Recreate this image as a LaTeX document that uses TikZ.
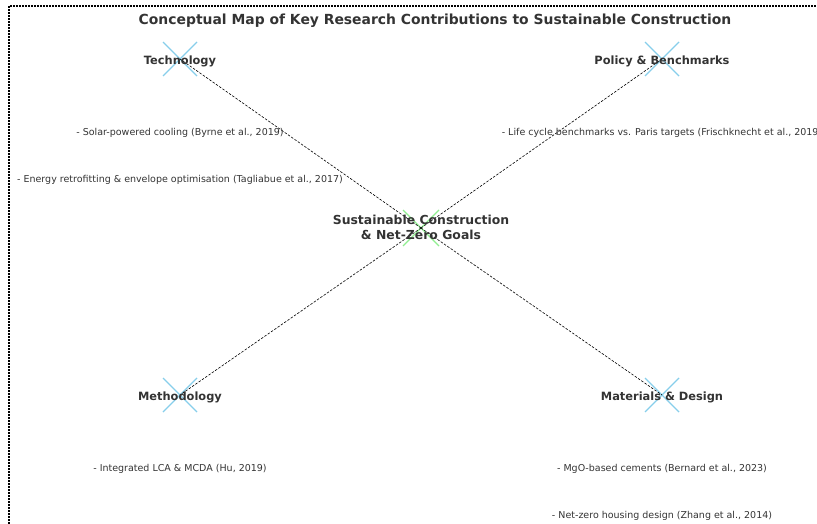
\documentclass[tikz,border=0pt]{standalone}
\usepackage{fontspec}
\setmainfont{DejaVu Sans}
\usetikzlibrary{calc}
\begin{document}
\begin{tikzpicture}[x=1pt,y=-1pt,
  txt/.style={text=textgray, inner sep=0pt, font=\fontsize{9.5}{11}\selectfont},
  hub/.style={text=textgray, inner sep=0pt, font=\bfseries\fontsize{11.4}{14}\selectfont, align=center},
  link/.style={draw=black, line width=0.6pt, dash pattern=on 2.5pt off 1.5pt},
  cross/.style={line width=1.4pt},
  frame/.style={line width=1.6pt, dash pattern=on 1.6pt off 1.4pt}]
\definecolor{textgray}{HTML}{333333}
\definecolor{sky}{HTML}{87CEEB}
\definecolor{mint}{HTML}{90EE90}
\useasboundingbox (0,0) rectangle (817,524);
\clip (0,0) rectangle (817,524);

% outer frame (top and left edges)
\draw[frame] (9,524) -- (9,6) -- (817,6);

% title
\node[text=textgray, inner sep=0pt, font=\bfseries\fontsize{13.9}{16}\selectfont] (title) at (435,21) {Conceptual Map of Key Research Contributions to Sustainable Construction};

% marker positions
\coordinate (c) at (421,228);
\coordinate (tech) at (180,59);
\coordinate (pol) at (662,59);
\coordinate (meth) at (180,395);
\coordinate (mat) at (662,395);

% cross markers
\foreach \p in {tech,pol,meth,mat}{
  \draw[cross, sky] ($(\p)+(-17,-17)$) -- ($(\p)+(17,17)$);
  \draw[cross, sky] ($(\p)+(-17,17)$) -- ($(\p)+(17,-17)$);
}
\draw[cross, mint] ($(c)+(-18,-18)$) -- ($(c)+(18,18)$);
\draw[cross, mint] ($(c)+(-18,18)$) -- ($(c)+(18,-18)$);

% dashed connectors
\draw[link] (c) -- (tech);
\draw[link] (c) -- (pol);
\draw[link] (c) -- (meth);
\draw[link] (c) -- (mat);

% labels
\node[hub, font=\bfseries\fontsize{12.4}{15}\selectfont] (lc) at (421,227.5) {Sustainable Construction\\\& Net-Zero Goals};
\node[hub] (ltech) at (180,61) {Technology};
\node[hub] (lpol) at (662,61) {Policy \& Benchmarks};
\node[hub] (lmeth) at (180,397) {Methodology};
\node[hub] (lmat) at (662,397) {Materials \& Design};

% contributions
\node[txt] (t1) at (180,133) {- Solar-powered cooling (Byrne et al., 2019)};
\node[txt] (t2) at (180,180) {- Energy retrofitting \& envelope optimisation (Tagliabue et al., 2017)};
\node[txt] (p1) at (662,133) {- Life cycle benchmarks vs. Paris targets (Frischknecht et al., 2019)};
\node[txt] (m1) at (180,469) {- Integrated LCA \& MCDA (Hu, 2019)};
\node[txt] (d1) at (662,469) {- MgO-based cements (Bernard et al., 2023)};
\node[txt] (d2) at (662,516) {- Net-zero housing design (Zhang et al., 2014)};
\end{tikzpicture}
\end{document}
